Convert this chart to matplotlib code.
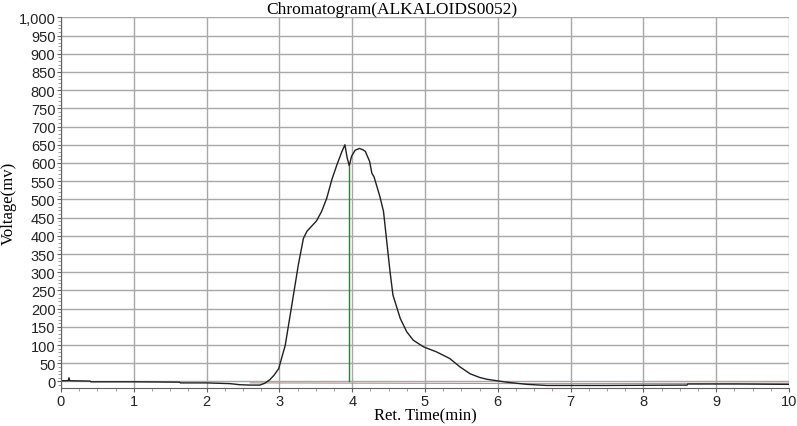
import numpy as np
import matplotlib.pyplot as plt
from matplotlib.ticker import MultipleLocator, FuncFormatter

# retention time (min) and detector signal (mV)
ret_time = [0.0, 0.10, 0.11, 0.12, 0.4, 0.41, 1.0, 1.63, 1.64, 2.0, 2.32, 2.46, 2.6,
            2.73, 2.80, 2.87, 2.93, 2.99, 3.08, 3.17, 3.26, 3.33, 3.38, 3.45, 3.51,
            3.58, 3.65, 3.72, 3.79, 3.86, 3.90, 3.93, 3.96, 3.99, 4.04, 4.10, 4.15,
            4.18, 4.24, 4.27, 4.30, 4.38, 4.43, 4.47, 4.52, 4.56, 4.66, 4.75, 4.84,
            4.98, 5.16, 5.34, 5.48, 5.62, 5.75, 5.85, 6.12, 6.40, 6.67, 7.5, 8.6,
            8.61, 9.3, 10.0]
signal = [2, 2, 10, 2, 1, -1, -1, -2, -4, -4, -6, -9, -10,
          -10, -5, 5, 18, 35, 99, 209, 320, 393, 413, 428, 441,
          467, 503, 554, 595, 632, 650, 615, 592, 618, 635, 640, 636,
          632, 604, 572, 562, 508, 467, 393, 301, 237, 173, 136, 113,
          95, 81, 63, 40, 21, 11, 6, -2, -8, -11, -11, -10,
          -7, -7, -8]

# faint baseline drawn under the peak
base_x = [2.6, 6.6, 10.0]
base_y = [-4, -6, -5]
marker_time = 3.96
marker_top = 592

y_ticks = np.arange(0, 1001, 50)
x_ticks = np.arange(0, 11, 1)

fig = plt.figure(figsize=(7.97, 4.27), dpi=100)
ax = fig.add_axes([0.0765, 0.089, 0.9135, 0.868])

ax.plot(base_x, base_y, color='#b89090', lw=0.8)
ax.plot(ret_time, signal, color='#202020', lw=1.0)
ax.plot([marker_time, marker_time], [0, marker_top], color='#2e7d32', lw=1.0)

ax.set_xlim(0, 10)
ax.set_ylim(-18, 1000)
ax.set_xticks(x_ticks)
ax.set_yticks(y_ticks)
ax.xaxis.set_minor_locator(MultipleLocator(0.25))
ax.yaxis.set_minor_locator(MultipleLocator(10))
ax.yaxis.set_major_formatter(FuncFormatter(lambda v, p: f"{int(v):,}"))
ax.grid(True, which='major', color='#a8a8a8', lw=1.0)
ax.set_axisbelow(True)

for s in ['top', 'right']:
    ax.spines[s].set_visible(False)
for s in ['left', 'bottom']:
    ax.spines[s].set_color('#606060')

ax.tick_params(which='major', length=3, color='#606060', labelsize=10.5,
               labelfontfamily='Liberation Sans', labelcolor='#222222', pad=1)
ax.tick_params(which='minor', length=2, color='#909090')

# the title sits a little left of the plot centre in the original
fig.text(0.492, 0.967, "Chromatogram(ALKALOIDS0052)", family='Liberation Serif',
         fontsize=12.5, ha='center', va='baseline')
ax.set_xlabel("Ret. Time(min)", family='Liberation Serif', fontsize=12, labelpad=0)
ax.set_ylabel("Voltage(mv)", family='Liberation Serif', fontsize=12)
ax.yaxis.set_label_coords(-0.061, 0.5)

fig.savefig("out.png", dpi=100)
